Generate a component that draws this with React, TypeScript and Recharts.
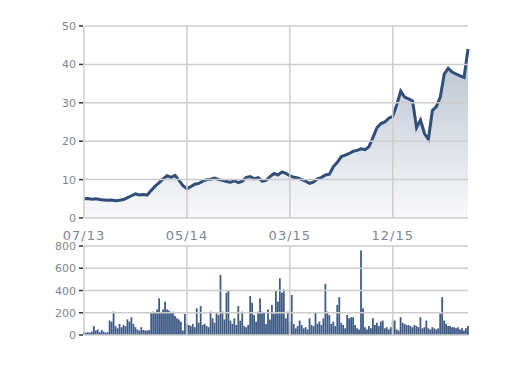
import { ComposedChart, Area, BarChart, Bar, XAxis, YAxis } from "recharts";

// price, roughly every 4px from 07/13 onward
const prices = [
  5.0, 5.1, 4.9, 5.0, 4.8, 4.7, 4.6, 4.7, 4.5, 4.6,
  4.8, 5.3, 5.8, 6.3, 6.0, 6.1, 6.0, 7.2, 8.3, 9.2,
  10.2, 11.0, 10.6, 11.1, 9.8, 8.4, 7.6, 8.2, 8.8, 9.0,
  9.6, 10.0, 10.1, 10.4, 10.0, 9.8, 9.5, 9.3, 9.7, 9.2,
  9.6, 10.6, 10.8, 10.2, 10.5, 9.6, 9.8, 10.8, 11.6, 11.2,
  12.0, 11.6, 11.0, 10.6, 10.4, 10.0, 9.6, 9.0, 9.4, 10.2,
  10.6, 11.2, 11.4, 13.4, 14.5, 16.0, 16.4, 16.8, 17.4, 17.6,
  18.0, 17.8, 18.6, 21.0, 23.5, 24.6, 25.0, 26.0, 26.5, 29.5,
  33.0, 31.5, 31.0, 30.5, 23.5, 25.5, 22.0, 20.5, 28.0, 29.0,
  31.5, 37.5, 39.0, 38.0, 37.5, 37.0, 36.6, 44.0,
];

// volume, twice the price resolution
const volumes = [
  30, 20, 25, 20, 30, 80, 40, 50, 25, 45,
  30, 20, 25, 130, 120, 210, 80, 60, 100, 70,
  90, 80, 140, 120, 160, 100, 70, 50, 40, 70,
  45, 40, 40, 45, 200, 210, 200, 230, 330, 200,
  230, 300, 230, 220, 200, 210, 170, 150, 140, 120,
  40, 190, 100, 90, 80, 100, 70, 240, 110, 260,
  90, 100, 80, 70, 210, 150, 110, 200, 180, 540,
  210, 140, 380, 400, 130, 100, 150, 90, 260, 130,
  210, 80, 70, 90, 350, 290, 180, 120, 210, 330,
  210, 200, 100, 230, 140, 270, 190, 400, 300, 510,
  380, 410, 150, 210, 120, 360, 100, 60, 80, 130,
  90, 60, 70, 50, 150, 90, 80, 200, 100, 120,
  90, 150, 460, 210, 180, 100, 120, 80, 270, 340,
  110, 90, 60, 180, 150, 160, 160, 90, 60, 50,
  760, 240, 70, 50, 80, 60, 150, 90, 110, 80,
  120, 130, 60, 70, 50, 70, 130, 130, 50, 40,
  160, 110, 100, 90, 90, 80, 70, 90, 80, 70,
  160, 60, 70, 130, 60, 50, 70, 60, 50, 60,
  190, 340, 130, 100, 80, 80, 70, 70, 60, 70,
  50, 60, 40, 60, 80,
];

const xTicks = [0, 26, 52, 78];
const xLabels = ["07/13", "05/14", "03/15", "12/15"];
const priceTicks = [0, 10, 20, 30, 40, 50];
const volTicks = [0, 200, 400, 600, 800];

const priceData = prices.map((p, i) => ({ x: i, price: p }));
const volData = volumes.map((v, i) => ({ x: i / 2, vol: v }));

const font = "'DejaVu Sans', Verdana, sans-serif";
const gridColor = "#cccccc";
const xDomain = [0, prices.length - 1];

// grid lines are drawn from the tick renderers (tickSize/tickMargin 0, so the
// tick anchor sits on the plot edge)
const PLOT_W = 384;
const PRICE_H = 192;
const VOL_H = 89;

const YTick = (props: any) => {
  const { x, y, payload } = props;
  return (
    <g>
      <line x1={x} x2={x + PLOT_W} y1={y} y2={y} stroke={gridColor} strokeWidth={1.5} />
      <line x1={x - 5} x2={x - 1} y1={y} y2={y} stroke="#333" strokeWidth={1.5} />
      <text x={x - 8} y={y} dy={4} textAnchor="end" fontSize={11} fill="#7d8594" fontFamily={font}>
        {payload.value}
      </text>
    </g>
  );
};

const makeXTick = (plotH: number, showLabel: boolean) => (props: any) => {
  const { x, y, payload } = props;
  return (
    <g>
      <line x1={x} x2={x} y1={y - plotH} y2={y} stroke={gridColor} strokeWidth={1.5} />
      {showLabel && (
        <text x={x} y={y + 22} textAnchor="middle" fontSize={13} fill="#7d8594" fontFamily={font} letterSpacing={1}>
          {xLabels[xTicks.indexOf(payload.value)] ?? ""}
        </text>
      )}
    </g>
  );
};

const PriceXTick = makeXTick(PRICE_H, true);
const VolXTick = makeXTick(VOL_H, false);

export default function App() {
  return (
    <div style={{ position: "absolute", left: 0, top: 0, width: 512, height: 384, background: "#fff" }}>
      <div style={{ position: "absolute", left: 0, top: 0 }}>
        <ComposedChart width={512} height={250} data={priceData} margin={{ top: 26, right: 44, bottom: 12, left: 0 }}>
          <defs>
            <linearGradient id="priceFill" x1="0" y1="0" x2="0" y2="1">
              <stop offset="0%" stopColor="#b8c2d0" />
              <stop offset="100%" stopColor="#f8f9fb" />
            </linearGradient>
          </defs>
          <XAxis
            dataKey="x"
            type="number"
            domain={xDomain}
            ticks={xTicks}
            interval={0}
            tick={<PriceXTick />}
            axisLine={false}
            tickLine={false}
            tickSize={0}
            tickMargin={0}
            height={20}
          />
          <YAxis
            domain={[0, 50]}
            ticks={priceTicks}
            interval={0}
            tick={<YTick />}
            axisLine={false}
            tickLine={false}
            tickSize={0}
            tickMargin={0}
            width={84}
          />
          <Area
            type="linear"
            dataKey="price"
            stroke="#2f4f78"
            strokeWidth={3}
            fill="url(#priceFill)"
            fillOpacity={1}
            isAnimationActive={false}
            dot={false}
          />
        </ComposedChart>
      </div>
      <div style={{ position: "absolute", left: 0, top: 236 }}>
        <BarChart width={512} height={110} data={volData} margin={{ top: 10, right: 44, bottom: 0, left: 0 }} barCategoryGap={0}>
          <XAxis
            dataKey="x"
            type="number"
            domain={xDomain}
            ticks={xTicks}
            interval={0}
            tick={<VolXTick />}
            axisLine={false}
            tickLine={false}
            tickSize={0}
            tickMargin={0}
            height={11}
          />
          <YAxis
            domain={[0, 800]}
            ticks={volTicks}
            interval={0}
            tick={<YTick />}
            axisLine={false}
            tickLine={false}
            tickSize={0}
            tickMargin={0}
            width={84}
          />
          <Bar dataKey="vol" fill="#3d5a84" barSize={2} isAnimationActive={false} />
        </BarChart>
      </div>
    </div>
  );
}
